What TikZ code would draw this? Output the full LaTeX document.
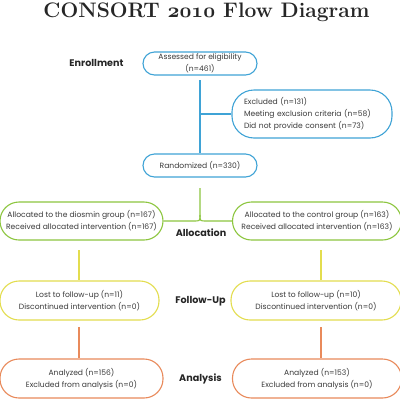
\documentclass[tikz,border=0pt]{standalone}
\usepackage{fontspec}
\newfontfamily\gothic{Poppins}
\definecolor{cblue}{HTML}{3FA3D6}
\definecolor{cgreen}{HTML}{8DC63F}
\definecolor{cyellow}{HTML}{E3DD4F}
\definecolor{corange}{HTML}{E98A5B}
\definecolor{txt}{HTML}{3A3A3A}
\begin{document}
\begin{tikzpicture}[x=1pt,y=-1pt,
  box/.style={draw,rounded corners=#1,line width=1.1pt,inner sep=0pt,align=center,
    font=\gothic\fontsize{7.6}{12}\selectfont,text=txt},
  lbl/.style={font=\gothic\bfseries\fontsize{9.6}{10}\selectfont,text=black!85,inner sep=0pt},
  conn/.style={line width=1.1pt}]
\useasboundingbox (0,0) rectangle (400,400);
\fill[white] (0,0) rectangle (400,400);

\node[font=\bfseries\fontsize{21}{21}\selectfont,text=black!85,inner sep=0pt] (title) at (206.5,12.5) {CONSORT {\boldmath$\mathnormal{2010}$} Flow Diagram};

\node[box=11.5pt,draw=cblue,minimum width=114pt,minimum height=23pt] (assess) at (200,63.5) {Assessed for eligibility\\(n=461)};
\node[box=22pt,draw=cblue,text width=136pt,inner xsep=12pt,minimum height=48pt,align=left] (excl) at (312,114) {Excluded (n=131)\\Meeting exclusion criteria (n=58)\\Did not provide consent (n=73)};
\node[box=11.5pt,draw=cblue,minimum width=114pt,minimum height=23pt] (rand) at (200,165.5) {Randomized (n=330)};

\node[box=19pt,draw=cgreen,minimum width=163pt,minimum height=38pt] (al) at (81.5,221) {Allocated to the diosmin group (n=167)\\Received allocated intervention (n=167)};
\node[box=19pt,draw=cgreen,minimum width=169pt,minimum height=38pt] (ar) at (317,221) {Allocated to the control group (n=163)\\Received allocated intervention (n=163)};

\node[box=19pt,draw=cyellow,minimum width=159pt,minimum height=39pt] (fl) at (79.5,300.5) {Lost to follow-up (n=11)\\Discontinued intervention (n=0)};
\node[box=19pt,draw=cyellow,minimum width=170pt,minimum height=39pt] (fr) at (316,300.5) {Lost to follow-up (n=10)\\Discontinued intervention (n=0)};

\node[box=19pt,draw=corange,minimum width=163pt,minimum height=39pt] (nl) at (81.5,378.5) {Analyzed (n=156)\\Excluded from analysis (n=0)};
\node[box=19pt,draw=corange,minimum width=169pt,minimum height=39pt] (nr) at (317,378.5) {Analyzed (n=153)\\Excluded from analysis (n=0)};

\node[lbl] (lenr) at (96.5,63) {Enrollment};
\node[lbl] (lall) at (201,233) {Allocation};
\node[lbl] (lfol) at (200.5,301) {Follow-Up};
\node[lbl] (lana) at (200.5,379) {Analysis};

% connectors
\coordinate (c1) at (200,80);
\draw[conn,cblue] (c1) -- (rand.north);
\draw[conn,cblue] (c1 |- excl.west) -- (excl.west);

\coordinate (g1) at (200,188);
\coordinate (g2) at (200,221);
\draw[conn,cgreen] (g1) -- ([yshift=6pt]g2) .. controls (g2) .. ([xshift=-6pt]g2) -- (al.east);
\draw[conn,cgreen] ([yshift=6pt]g2) .. controls (g2) .. ([xshift=6pt]g2) -- (ar.west);

\coordinate (y1) at (79,250);
\coordinate (y2) at (321,250);
\draw[conn,cyellow] (y1) -- (y1 |- fl.north);
\draw[conn,cyellow] (y2) -- (y2 |- fr.north);

\coordinate (o1) at (79,327);
\coordinate (o2) at (321,327);
\draw[conn,corange] (o1) -- (o1 |- nl.north);
\draw[conn,corange] (o2) -- (o2 |- nr.north);
\end{tikzpicture}
\end{document}
